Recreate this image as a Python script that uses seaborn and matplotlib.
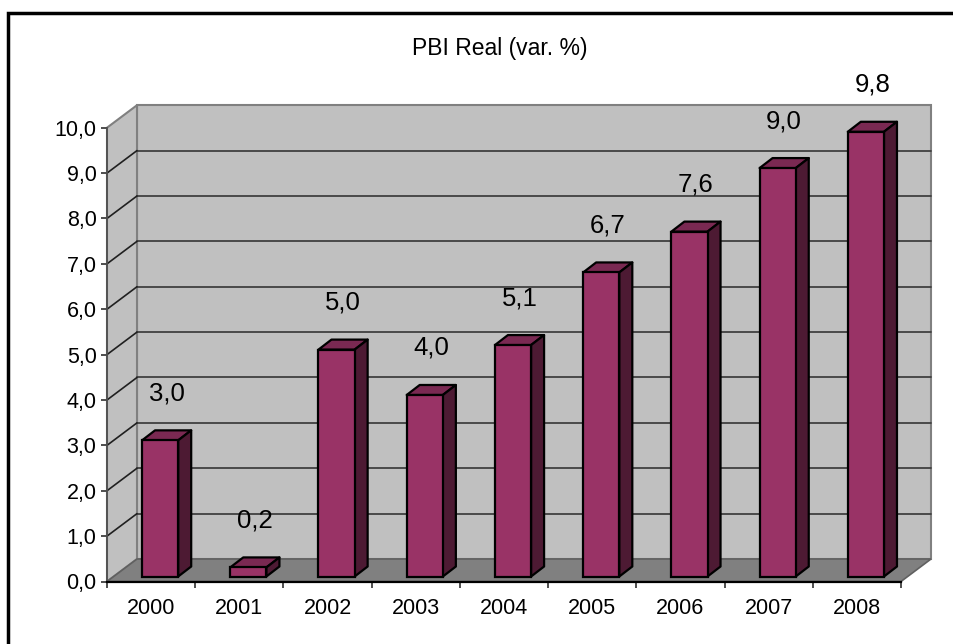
import matplotlib
matplotlib.use("Agg")
import matplotlib.pyplot as plt
import seaborn as sns
import numpy as np
import pandas as pd
from matplotlib.patches import Polygon, Rectangle
from matplotlib.lines import Line2D
from matplotlib.transforms import IdentityTransform, Affine2D

# ---- data ----
years = ["2000", "2001", "2002", "2003", "2004", "2005", "2006", "2007", "2008"]
values = [3.0, 0.2, 5.0, 4.0, 5.1, 6.7, 7.6, 9.0, 9.8]
y_ticks = [0, 1, 2, 3, 4, 5, 6, 7, 8, 9, 10]
title = "PBI Real (var. %)"

# ---- style ----
sns.set_theme(style="white")
plt.rcParams['font.family'] = ['Liberation Sans', 'DejaVu Sans']

W, H = 954, 644
fig = plt.figure(figsize=(W / 100, H / 100), dpi=100)
fig.patch.set_facecolor("white")

# front plane of the 3D box (pixel geometry measured from reference)
fx0, fx1 = 107, 901
fy0, fy1 = 581.5, 127.7
ax = fig.add_axes([fx0 / W, 1 - fy0 / H, (fx1 - fx0) / W, (fy0 - fy1) / H])

df = pd.DataFrame({"year": years, "value": values})
sns.barplot(data=df, x="year", y="value", color="#993366", saturation=1,
            width=0.41, edgecolor="black", linewidth=1.6, errorbar=None,
            ax=ax, zorder=4)
bars = list(ax.patches)
ax.set_xlim(-0.5, len(years) - 0.5)
ax.set_ylim(0, 10)
ax.patch.set_visible(False)
ax.set_xlabel("")
ax.set_ylabel("")

ID = IdentityTransform()
back = np.array([30.0, 22.5])     # depth offset of back wall (px)
boff = np.array([9.0, 5.0])       # bar front offset (px)
bdep = np.array([13.0, 10.0])     # bar depth (px)


def D(x, y):
    return np.array(ax.transData.transform((x, y)))


xmin, xmax = -0.5, len(years) - 0.5
wall_c = "#C0C0C0"
floor_c = "#808080"
edge_c = "#808080"

# back wall
pts = [D(xmin, 0) + back, D(xmax, 0) + back, D(xmax, 10) + back, D(xmin, 10) + back]
ax.add_patch(Polygon(pts, closed=True, transform=ID, facecolor=wall_c,
                     edgecolor=edge_c, lw=1.5, zorder=0.5, clip_on=False))
# left side wall
pts = [D(xmin, 0), D(xmin, 0) + back, D(xmin, 10) + back, D(xmin, 10)]
ax.add_patch(Polygon(pts, closed=True, transform=ID, facecolor=wall_c,
                     edgecolor=edge_c, lw=1.5, zorder=0.5, clip_on=False))
# floor
pts = [D(xmin, 0), D(xmax, 0), D(xmax, 0) + back, D(xmin, 0) + back]
ax.add_patch(Polygon(pts, closed=True, transform=ID, facecolor=floor_c,
                     edgecolor="#606060", lw=1.2, zorder=0.6, clip_on=False))

# gridlines
for yv in y_ticks[1:-1]:
    a, b = D(xmin, yv) + back, D(xmax, yv) + back
    ax.add_line(Line2D([a[0], b[0]], [a[1], b[1]], transform=ID, color="#404040",
                       lw=1.3, zorder=0.7, clip_on=False))
    c = D(xmin, yv)
    ax.add_line(Line2D([c[0], a[0]], [c[1], a[1]], transform=ID, color="#202020",
                       lw=1.2, zorder=0.7, clip_on=False))

# bars: shift front faces and add top/side faces
for p, v in zip(bars, values):
    p.set_transform(ax.transData + Affine2D().translate(*boff))
    p.set_clip_on(False)
    x, w = p.get_x(), p.get_width()
    h = p.get_height()
    L = D(x, h) + boff
    R = D(x + w, h) + boff
    Bb = D(x + w, 0) + boff
    ax.add_patch(Polygon([L, R, R + bdep, L + bdep], closed=True, transform=ID,
                         facecolor="#7A2952", edgecolor="black", lw=1.6,
                         zorder=3.9, clip_on=False, joinstyle="round"))
    ax.add_patch(Polygon([Bb, R, R + bdep, Bb + bdep], closed=True, transform=ID,
                         facecolor="#4D1A33", edgecolor="black", lw=1.6,
                         zorder=3.9, clip_on=False, joinstyle="round"))
    c = D(x + w / 2, h) + boff + np.array([bdep[0] / 2, 47])
    ax.text(c[0], c[1], f"{v:.1f}".replace(".", ","), transform=ID,
            ha="center", va="center", fontsize=18.5, color="black", zorder=6)

# axes styling
for s in ["top", "right"]:
    ax.spines[s].set_visible(False)
ax.spines["left"].set_color("#505050")
ax.spines["left"].set_linewidth(1.3)
ax.spines["bottom"].set_color("black")
ax.spines["bottom"].set_linewidth(1.6)
ax.spines["left"].set_zorder(2)
ax.spines["bottom"].set_zorder(2)

ax.set_yticks(y_ticks)
ax.set_yticklabels([f"{t:.1f}".replace(".", ",") for t in y_ticks], fontsize=15.5)
ax.tick_params(axis="y", which="major", direction="out", length=4, width=1.2,
               color="#303030", pad=3.5, left=True, labelcolor="black")

ax.set_xticks(np.arange(len(years) + 1) - 0.5)
ax.set_xticklabels([""] * (len(years) + 1))
ax.set_xticks(np.arange(len(years)), minor=True)
ax.set_xticklabels(years, minor=True, fontsize=15.5)
ax.tick_params(axis="x", which="major", direction="out", length=4.5, width=1.2,
               color="#303030", bottom=True)
ax.tick_params(axis="x", which="minor", length=0, pad=12, labelcolor="black")

# title
fig.text(500 / W, 1 - 48 / H, title, ha="center", va="center", fontsize=16.5,
         color="black")

# chart-area frame
fig.add_artist(Rectangle((8, -20), 1000, H - 12.5 + 20, transform=ID,
                         facecolor="none", edgecolor="black", lw=2.5, zorder=10))

fig.savefig("out.png", dpi=100)
